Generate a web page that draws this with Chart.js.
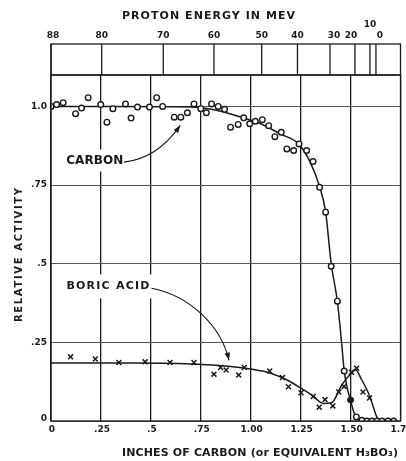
<!DOCTYPE html>
<html><head><meta charset="utf-8">
<script src="https://cdn.jsdelivr.net/npm/chart.js@4"></script>
<style>html,body{margin:0;padding:0;background:#fff;}</style>
</head><body>
<canvas id="c" width="406" height="461"></canvas>
<script>
// ---- data ----
const xTicks = [0, 0.25, 0.5, 0.75, 1.0, 1.25, 1.5, 1.75];
const xTickLabels = ['0', '.25', '.5', '.75', '1.00', '1.25', '1.50', '1.75'];
const yTicks = [0, 0.25, 0.5, 0.75, 1.0];
const yTickLabels = ['0', '.25', '.5', '.75', '1.0'];
const energyLabels = ['88', '80', '70', '60', '50', '40', '30', '20', '10', '0'];
const energyInches = [0, 0.254, 0.562, 0.816, 1.055, 1.234, 1.397, 1.522, 1.597, 1.627];

const carbonX = [0, 0.028, 0.061, 0.123, 0.153, 0.186, 0.249, 0.28, 0.31, 0.373, 0.401, 0.433, 0.493, 0.529, 0.559, 0.617, 0.65, 0.683, 0.716, 0.75, 0.778, 0.804, 0.837, 0.869, 0.899, 0.937, 0.965, 0.995, 1.023, 1.058, 1.09, 1.121, 1.153, 1.181, 1.215, 1.242, 1.28, 1.312, 1.345, 1.375, 1.403, 1.434, 1.468, 1.529, 1.557, 1.582, 1.607, 1.632, 1.657, 1.687, 1.716];
const carbonY = [1.0, 1.006, 1.012, 0.977, 0.995, 1.028, 1.006, 0.95, 0.993, 1.008, 0.963, 0.998, 0.998, 1.028, 1.0, 0.966, 0.966, 0.98, 1.008, 0.993, 0.98, 1.008, 1.0, 0.991, 0.934, 0.943, 0.964, 0.945, 0.953, 0.958, 0.939, 0.904, 0.918, 0.865, 0.86, 0.881, 0.86, 0.825, 0.743, 0.664, 0.492, 0.381, 0.159, 0.013, 0.002, 0, 0, 0, 0, 0, 0];
const carbonSolidX = [1.5];
const carbonSolidY = [0.067];
const carbonCurveX = [0, 0.3, 0.6, 0.75, 0.85, 0.95, 1.05, 1.15, 1.24, 1.3, 1.345, 1.375, 1.403, 1.434, 1.455, 1.468, 1.485, 1.5, 1.515, 1.53, 1.56, 1.73];
const carbonCurveY = [1.0, 1.0, 0.999, 0.996, 0.985, 0.966, 0.945, 0.912, 0.881, 0.82, 0.745, 0.665, 0.5, 0.38, 0.25, 0.16, 0.1, 0.066, 0.03, 0.01, 0, 0];

const boricX = [0.098, 0.222, 0.34, 0.471, 0.596, 0.716, 0.816, 0.849, 0.877, 0.94, 0.968, 1.095, 1.159, 1.189, 1.252, 1.313, 1.343, 1.372, 1.411, 1.441, 1.467, 1.504, 1.53, 1.562, 1.595];
const boricY = [0.204, 0.197, 0.186, 0.188, 0.186, 0.186, 0.149, 0.17, 0.162, 0.146, 0.17, 0.159, 0.138, 0.109, 0.09, 0.078, 0.044, 0.068, 0.048, 0.092, 0.11, 0.155, 0.168, 0.092, 0.073];
const boricCurveX = [0, 0.4, 0.7, 0.9, 1.0, 1.1, 1.19, 1.25, 1.313, 1.363, 1.405, 1.455, 1.504, 1.526, 1.554, 1.595, 1.628, 1.64];
const boricCurveY = [0.184, 0.184, 0.181, 0.173, 0.165, 0.152, 0.128, 0.105, 0.079, 0.056, 0.058, 0.114, 0.152, 0.162, 0.133, 0.08, 0.018, 0];

const zip = (xs, ys) => xs.map((x, i) => ({x, y: ys[i]}));
const INK = '#1a1a1a';
const FONT = '"DejaVu Sans", sans-serif';

function spaced(ctx, text, cx, cy, width, font) {
  ctx.font = font;
  ctx.letterSpacing = '0px';
  const w = ctx.measureText(text).width;
  const n = [...text].length;
  const ls = n > 1 ? (width - w) / (n - 1) : 0;
  ctx.letterSpacing = ls + 'px';
  ctx.textAlign = 'left';
  ctx.textBaseline = 'middle';
  ctx.fillText(text, cx - width / 2, cy);
  ctx.letterSpacing = '0px';
}

function arrowHead(ctx, x, y, fromX, fromY, size) {
  const a = Math.atan2(y - fromY, x - fromX);
  ctx.beginPath();
  ctx.moveTo(x, y);
  ctx.lineTo(x - size * Math.cos(a - 0.35), y - size * Math.sin(a - 0.35));
  ctx.lineTo(x - size * Math.cos(a + 0.35), y - size * Math.sin(a + 0.35));
  ctx.closePath();
  ctx.fill();
}

const decor = {
  id: 'decor',
  beforeDatasetsDraw(chart) {
    const ctx = chart.ctx, xs = chart.scales.x, ys = chart.scales.y;
    const P = (vx, vy) => [xs.getPixelForValue(vx), ys.getPixelForValue(vy)];
    ctx.save();
    ctx.fillStyle = '#fff';
    // white patches behind the series labels
    let [cx, cy] = P(0.219, 0.828);
    ctx.fillRect(cx - 31, cy - 11, 62, 22);
    [cx, cy] = P(0.285, 0.428);
    ctx.fillRect(cx - 45, cy - 12, 90, 24);
    ctx.restore();
  },
  afterDraw(chart) {
    const ctx = chart.ctx, a = chart.chartArea, xs = chart.scales.x, ys = chart.scales.y;
    const P = (vx, vy) => [xs.getPixelForValue(vx), ys.getPixelForValue(vy)];
    ctx.save();
    ctx.strokeStyle = INK;
    ctx.fillStyle = INK;
    ctx.lineWidth = 1.3;
    // frame
    ctx.strokeRect(a.left, a.top, a.right - a.left, a.bottom - a.top);
    // energy box
    const bt = a.top - 31;
    ctx.strokeRect(a.left, bt, a.right - a.left, 31);
    energyInches.forEach((v, i) => {
      const px = xs.getPixelForValue(v);
      ctx.beginPath(); ctx.moveTo(px, bt); ctx.lineTo(px, a.top); ctx.stroke();
    });
    // energy labels
    ctx.font = 'bold 9px ' + FONT;
    ctx.textAlign = 'center';
    ctx.textBaseline = 'middle';
    energyLabels.forEach((t, i) => {
      let px = xs.getPixelForValue(energyInches[i]);
      let py = bt - 8;
      if (t === '10') py = bt - 19;
      if (t === '0') px += 4;
      if (t === '20') px -= 4;
      if (t === '30') px += 4;
      if (t === '88') px += 2;
      ctx.fillText(t, px, py);
    });
    // x tick labels
    xTicks.forEach((v, i) => {
      ctx.fillText(xTickLabels[i], xs.getPixelForValue(v) + 1, a.bottom + 9);
    });
    // y tick labels
    ctx.textAlign = 'right';
    yTicks.forEach((v, i) => {
      ctx.fillText(yTickLabels[i], a.left - 4, ys.getPixelForValue(v) - (v === 0 ? 2 : 0));
    });
    // titles
    spaced(ctx, 'PROTON ENERGY IN MEV', 208.5, 16.5, 173, 'bold 11px ' + FONT);
    spaced(ctx, 'INCHES OF CARBON (or EQUIVALENT H\u2083BO\u2083)', 260, 453, 276, 'bold 11px ' + FONT);
    ctx.save();
    ctx.translate(19, 255);
    ctx.rotate(-Math.PI / 2);
    spaced(ctx, 'RELATIVE ACTIVITY', 0, 0, 134, 'bold 10px ' + FONT);
    ctx.restore();
    // series labels
    let [cx, cy] = P(0.219, 0.828);
    spaced(ctx, 'CARBON', cx, cy, 57, 'bold 12px ' + FONT);
    [cx, cy] = P(0.285, 0.428);
    spaced(ctx, 'BORIC ACID', cx, cy, 83, 'bold 11px ' + FONT);
    // arrows
    ctx.lineWidth = 1.1;
    let [x0, y0] = P(0.365, 0.823), [x1, y1] = P(0.533, 0.835), [x2, y2] = P(0.647, 0.94);
    ctx.beginPath(); ctx.moveTo(x0, y0); ctx.quadraticCurveTo(x1, y1, x2, y2); ctx.stroke();
    arrowHead(ctx, x2, y2, x1, y1, 8);
    let [b0x, b0y] = P(0.503, 0.422), [b1x, b1y] = P(0.692, 0.399), [b2x, b2y] = P(0.851, 0.304), [b3x, b3y] = P(0.891, 0.193);
    ctx.beginPath(); ctx.moveTo(b0x, b0y); ctx.bezierCurveTo(b1x, b1y, b2x, b2y, b3x, b3y); ctx.stroke();
    arrowHead(ctx, b3x, b3y, b2x, b2y, 8);
    ctx.restore();
  }
};

new Chart(document.getElementById('c'), {
  type: 'line',
  data: {
    datasets: [
      { label: 'Carbon', data: zip(carbonX, carbonY), showLine: false, order: 0,
        pointStyle: 'circle', pointRadius: 2.8, pointBorderWidth: 1.4,
        pointBorderColor: INK, pointBackgroundColor: '#fff' },
      { label: 'Carbon (solid)', data: zip(carbonSolidX, carbonSolidY), showLine: false, order: 0,
        pointStyle: 'circle', pointRadius: 3, pointBorderWidth: 1,
        pointBorderColor: INK, pointBackgroundColor: INK },
      { label: 'Boric acid', data: zip(boricX, boricY), showLine: false, order: 0,
        pointStyle: 'crossRot', pointRadius: 3.5, pointBorderWidth: 1.5,
        pointBorderColor: INK },
      { label: 'Carbon fit', data: zip(carbonCurveX, carbonCurveY), order: 1,
        borderColor: INK, borderWidth: 1.5, pointRadius: 0, cubicInterpolationMode: 'monotone', fill: false },
      { label: 'Boric fit', data: zip(boricCurveX, boricCurveY), order: 1,
        borderColor: INK, borderWidth: 1.5, pointRadius: 0, cubicInterpolationMode: 'monotone', fill: false }
    ]
  },
  options: {
    responsive: false,
    animation: false,
    devicePixelRatio: 1,
    layout: { padding: { left: 51, right: 4, top: 75, bottom: 40 } },
    plugins: { legend: { display: false }, tooltip: { enabled: false } },
    scales: {
      x: { type: 'linear', min: 0, max: 1.75,
        afterBuildTicks: s => { s.ticks = xTicks.map(v => ({value: v})); },
        ticks: { display: false },
        grid: { color: INK, lineWidth: 1.3, drawTicks: false },
        border: { display: false } },
      y: { type: 'linear', min: 0, max: 1.1,
        afterBuildTicks: s => { s.ticks = yTicks.map(v => ({value: v})); },
        ticks: { display: false },
        grid: { color: '#555', lineWidth: 1, drawTicks: false },
        border: { display: false } }
    }
  },
  plugins: [decor]
});
</script>
</body></html>
